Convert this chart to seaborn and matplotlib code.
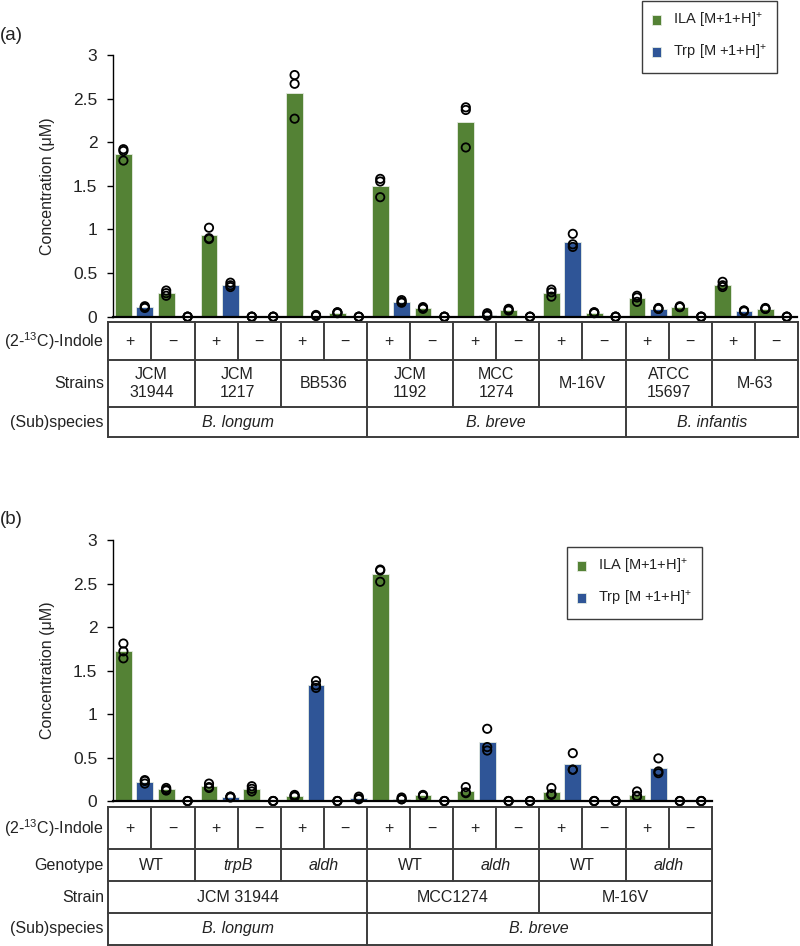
import pandas as pd
import seaborn as sns
import matplotlib.pyplot as plt

# ---- data ----
compounds = ['ILA [M+1+H]$^{+}$', 'Trp [M +1+H]$^{+}$']
indole = ['+', '\u2212']
ytick_values = [0, 0.5, 1, 1.5, 2, 2.5, 3]
ytick_labels = ['0', '0.5', '1', '1.5', '2', '2.5', '3']

# panel (a): one entry per table column (strain x indole), three replicates each
strains_a = ['JCM\n31944', 'JCM\n1217', 'BB536', 'JCM\n1192', 'MCC\n1274', 'M-16V', 'ATCC\n15697', 'M-63']
species_a = ['B. longum', 'B. breve', 'B. infantis']
species_span_a = [6, 6, 4]
ila_a = [
    [1.92, 1.90, 1.79], [0.30, 0.27, 0.24],
    [1.02, 0.90, 0.89], [0.0, 0.0, 0.0],
    [2.77, 2.67, 2.27], [0.05, 0.05, 0.04],
    [1.58, 1.55, 1.37], [0.11, 0.10, 0.09],
    [2.40, 2.37, 1.94], [0.09, 0.08, 0.07],
    [0.31, 0.28, 0.23], [0.05, 0.05, 0.04],
    [0.24, 0.22, 0.17], [0.12, 0.11, 0.11],
    [0.40, 0.36, 0.34], [0.10, 0.09, 0.09],
]
trp_a = [
    [0.12, 0.11, 0.10], [0.0, 0.0, 0.0],
    [0.39, 0.36, 0.34], [0.0, 0.0, 0.0],
    [0.02, 0.01, 0.01], [0.0, 0.0, 0.0],
    [0.19, 0.17, 0.16], [0.0, 0.0, 0.0],
    [0.04, 0.02, 0.01], [0.0, 0.0, 0.0],
    [0.95, 0.83, 0.80], [0.0, 0.0, 0.0],
    [0.10, 0.09, 0.09], [0.0, 0.0, 0.0],
    [0.07, 0.07, 0.06], [0.0, 0.0, 0.0],
]

# panel (b)
genotype_b = ['WT', 'trpB', 'aldh', 'WT', 'aldh', 'WT', 'aldh']
genotype_italic_b = [False, True, True, False, True, False, True]
strain_b = ['JCM 31944', 'MCC1274', 'M-16V']
strain_span_b = [6, 4, 4]
species_b = ['B. longum', 'B. breve']
species_span_b = [6, 8]
ila_b = [
    [1.81, 1.72, 1.64], [0.15, 0.13, 0.12],
    [0.20, 0.16, 0.15], [0.17, 0.14, 0.11],
    [0.07, 0.06, 0.05], [0.0, 0.0, 0.0],
    [2.66, 2.65, 2.52], [0.07, 0.06, 0.06],
    [0.16, 0.10, 0.09], [0.0, 0.0, 0.0],
    [0.15, 0.08, 0.07], [0.0, 0.0, 0.0],
    [0.11, 0.06, 0.05], [0.0, 0.0, 0.0],
]
trp_b = [
    [0.24, 0.23, 0.20], [0.0, 0.0, 0.0],
    [0.05, 0.05, 0.04], [0.0, 0.0, 0.0],
    [1.38, 1.33, 1.30], [0.05, 0.03, 0.02],
    [0.04, 0.02, 0.02], [0.0, 0.0, 0.0],
    [0.83, 0.62, 0.58], [0.0, 0.0, 0.0],
    [0.55, 0.36, 0.36], [0.0, 0.0, 0.0],
    [0.49, 0.34, 0.32], [0.0, 0.0, 0.0],
]

GREEN = '#548235'
BLUE = '#2F5597'
LINE = '#3c3c3c'
TXT = '#222222'
FS = 11.5

sns.set_theme(style='ticks')
plt.rcParams['font.family'] = ['Liberation Sans', 'DejaVu Sans']
plt.rcParams['mathtext.fontset'] = 'custom'
plt.rcParams['mathtext.rm'] = 'Liberation Sans'
plt.rcParams['mathtext.it'] = 'Liberation Sans:italic'
plt.rcParams['text.color'] = TXT

W, H = 800, 946
fig = plt.figure(figsize=(W / 100, H / 100), dpi=100)


def px_rect(x0, y0, x1, y1):
    # pixel box (top-left origin) -> figure fraction rect
    return [x0 / W, 1 - y1 / H, (x1 - x0) / W, (y1 - y0) / H]


def long_df(ila, trp):
    rows = []
    for c, (i_reps, t_reps) in enumerate(zip(ila, trp)):
        for k, reps in enumerate((i_reps, t_reps)):
            for v in reps:
                rows.append({'slot': f'{c}_{k}', 'compound': compounds[k], 'value': v})
    order = [f'{c}_{k}' for c in range(len(ila)) for k in range(2)]
    return pd.DataFrame(rows), order


def bar_panel(ila, trp, top, bottom, legend_box):
    df, order = long_df(ila, trp)
    pitch = 21.4
    ax = fig.add_axes(px_rect(112.7, top, 112.7 + pitch * len(order), bottom))
    sns.barplot(data=df, x='slot', y='value', hue='compound', order=order,
                hue_order=compounds, palette=[GREEN, BLUE], dodge=False,
                width=0.78, saturation=1, errorbar=None,
                edgecolor='#e6ece2', linewidth=0.6, ax=ax)
    sns.stripplot(data=df, x='slot', y='value', order=order, jitter=False,
                  color='none', edgecolor='black', linewidth=1.3, size=6.0,
                  clip_on=False, zorder=4, ax=ax)
    ax.set_xlim(-0.5, len(order) - 0.5)
    ax.set_ylim(0, 3)
    ax.set_xticks([])
    ax.set_yticks(ytick_values, ytick_labels)
    ax.set_xlabel('')
    ax.set_ylabel('Concentration (\u03bcM)', fontsize=FS, color=TXT)
    ax.yaxis.set_label_coords((55 - 112.7) / (pitch * len(order)), 0.5)
    ax.tick_params(axis='y', length=4, width=1, pad=7, labelsize=12.5,
                   color='black', labelcolor=TXT)
    for s in ['top', 'right']:
        ax.spines[s].set_visible(False)
    ax.spines['left'].set_color('black')
    ax.spines['left'].set_linewidth(1.0)
    ax.spines['bottom'].set_color('black')
    ax.spines['bottom'].set_linewidth(1.6)
    ax.spines['bottom'].set_zorder(5)
    sns.move_legend(ax, 'upper right',
                    bbox_to_anchor=(legend_box[0] / W, 1 - legend_box[1] / H),
                    bbox_transform=fig.transFigure, title=None, frameon=True,
                    fontsize=10.5, handlelength=0.65, handleheight=0.65,
                    handletextpad=0.8, labelspacing=0.9, borderpad=0.7,
                    fancybox=False, edgecolor=LINE, framealpha=1,
                    borderaxespad=0)
    ax.get_legend().get_frame().set_linewidth(1.0)
    return ax


def table(ncols, edges, rows):
    # edges: pixel y of the row borders; rows: (label, [(text, span, italic), ...])
    colw = 43.1
    x0 = 108.3
    axt = fig.add_axes(px_rect(x0, edges[0], x0 + colw * ncols, edges[-1]))
    axt.set_xlim(0, ncols)
    axt.set_ylim(edges[-1], edges[0])
    axt.axis('off')
    lw = 1.4
    for y in edges:
        axt.plot([0, ncols], [y, y], color=LINE, lw=lw, clip_on=False, solid_capstyle='projecting')
    for r, (label, cells) in enumerate(rows):
        ya, yb = edges[r], edges[r + 1]
        yc = (ya + yb) / 2
        axt.text(-0.1, yc, label, ha='right', va='center', fontsize=FS, color=TXT)
        pos = 0
        axt.plot([0, 0], [ya, yb], color=LINE, lw=lw, clip_on=False)
        for text, span, italic in cells:
            axt.text(pos + span / 2, yc, text, ha='center', va='center', fontsize=FS,
                     style='italic' if italic else 'normal', linespacing=1.3, color=TXT)
            pos += span
            axt.plot([pos, pos], [ya, yb], color=LINE, lw=lw, clip_on=False)


# ---- panel (a) ----
bar_panel(ila_a, trp_a, 55, 316.7, (777, 1))
table(16, [322, 360, 407, 437], [
    ('(2-$^{13}$C)-Indole', [(indole[i % 2], 1, False) for i in range(16)]),
    ('Strains', [(s, 2, False) for s in strains_a]),
    ('(Sub)species', [(s, n, True) for s, n in zip(species_a, species_span_a)]),
])
fig.text(0.0, 1 - 36 / H, '(a)', ha='left', va='center', fontsize=13.5, color=TXT)

# ---- panel (b) ----
bar_panel(ila_b, trp_b, 540, 801, (702, 547))
table(14, [807, 849, 881, 913, 944.5], [
    ('(2-$^{13}$C)-Indole', [(indole[i % 2], 1, False) for i in range(14)]),
    ('Genotype', [(g, 2, it) for g, it in zip(genotype_b, genotype_italic_b)]),
    ('Strain', [(s, n, False) for s, n in zip(strain_b, strain_span_b)]),
    ('(Sub)species', [(s, n, True) for s, n in zip(species_b, species_span_b)]),
])
fig.text(0.0, 1 - 519 / H, '(b)', ha='left', va='center', fontsize=13.5, color=TXT)

fig.savefig('out.png', dpi=100)
